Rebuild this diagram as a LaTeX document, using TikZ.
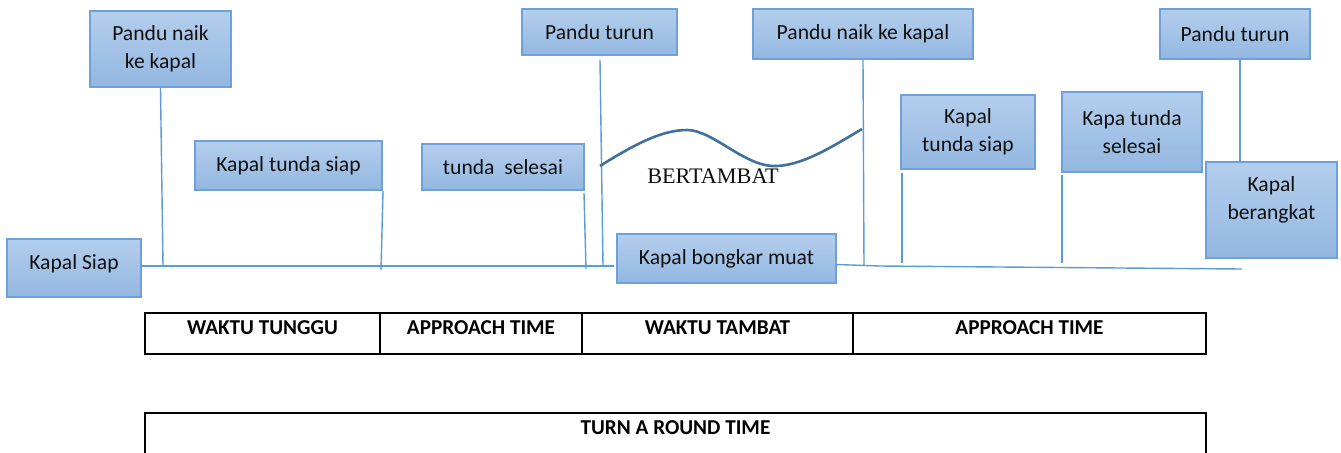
\documentclass[tikz,border=0pt]{standalone}
\usepackage{fontspec}
\setmainfont{Carlito}
\newfontfamily\timesf{Liberation Serif}
\definecolor{boxtop}{HTML}{B4CEEC}
\definecolor{boxbot}{HTML}{93B7E1}
\definecolor{boxedge}{HTML}{6FA0DA}
\definecolor{linec}{HTML}{5B9BD5}
\definecolor{wavec}{HTML}{41709C}
\definecolor{txt}{HTML}{101010}
\tikzset{
  bluebox/.style={draw=boxedge, line width=1pt, top color=boxtop, bottom color=boxbot,
    inner sep=0pt, align=center, text=txt, font=\fontsize{10.8}{14}\selectfont},
  boxtext/.style={inner sep=0pt, align=center, text=txt, font=\fontsize{10.8}{14}\selectfont},
  conn/.style={draw=linec, line width=0.7pt},
  wave/.style={draw=wavec, line width=1.3pt},
  cell/.style={draw=black, line width=1pt, inner sep=0pt, minimum height=20.5pt},
  celltext/.style={inner sep=0pt, text=black, font=\fontsize{10.6}{12}\selectfont\bfseries},
}
\begin{document}
\begin{tikzpicture}[x=0.5pt,y=-0.5pt]
\useasboundingbox (0,0) rectangle (1341,452);

% boxes
\node[bluebox, minimum width=70.5pt, minimum height=38pt] (pnk1) at (160.5,49) {Pandu naik\\ke kapal};
\node[bluebox, minimum width=93.5pt, minimum height=24.5pt] (kts1) at (288.5,165.5) {Kapal tunda siap};
\node[bluebox, minimum width=67pt, minimum height=29pt] (ks) at (74,268) {};
\node[boxtext] (kst) at (74,264) {Kapal Siap};
\node[bluebox, minimum width=81pt, minimum height=23pt] (ts) at (503,167) {tunda\ \ selesai};
\node[bluebox, minimum width=77.5pt, minimum height=23pt] (pt1) at (599.5,32) {Pandu turun};
\node[bluebox, minimum width=110pt, minimum height=25pt] (pnk2) at (863,34) {Pandu naik ke kapal};
\node[bluebox, minimum width=109.5pt, minimum height=24.5pt] (kbm) at (726.5,258.5) {Kapal bongkar muat};
\node[bluebox, minimum width=67pt, minimum height=37pt] (kts2) at (968,132) {Kapal\\tunda siap};
\node[bluebox, minimum width=70pt, minimum height=40pt] (kts3) at (1132,132) {Kapa tunda\\selesai};
\node[bluebox, minimum width=75pt, minimum height=25pt] (pt2) at (1235,34) {Pandu turun};
\node[bluebox, minimum width=65.5pt, minimum height=48pt] (kb) at (1271.5,210) {};
\node[boxtext] (kbt) at (1271.5,200) {Kapal\\berangkat};

% main time line
\coordinate (m0) at (141,266);
\coordinate (m1) at (614,266);
\coordinate (m2) at (836,264.5);
\coordinate (m3) at (880,266);
\coordinate (m4) at (1242,269);
\draw[conn] (m0) -- (m1);
\draw[conn] (m2) -- (m3) -- (m4);

% vertical markers
\coordinate (v1) at (163,266);
\draw[conn] (pnk1.south) -- (v1);
\coordinate (v2) at (381,270);
\draw[conn] (kts1.south east) -- (v2);
\coordinate (v3a) at (584,193);
\coordinate (v3b) at (586,269);
\draw[conn] (v3a) -- (v3b);
\coordinate (v4a) at (600,60);
\coordinate (v4b) at (603,266);
\draw[conn] (v4a) -- (v4b);
\coordinate (v5) at (864,265);
\draw[conn] (pnk2.south) -- (v5);
\coordinate (v6a) at (902,173);
\coordinate (v6b) at (902,263);
\draw[conn] (v6a) -- (v6b);
\coordinate (v7a) at (1062,175);
\coordinate (v7b) at (1062,263);
\draw[conn] (v7a) -- (v7b);
\coordinate (v8a) at (1240,59);
\coordinate (v8b) at (1240,162);
\draw[conn] (v8a) -- (v8b);

% wave
\coordinate (w0) at (600,166);
\coordinate (w1) at (687,130);
\coordinate (w2) at (772,166);
\coordinate (w3) at (862,129);
\draw[wave] (w0) .. controls (635,144) and (662,130) .. (w1)
  .. controls (712,130) and (742,164) .. (w2)
  .. controls (800,167) and (830,148) .. (w3);
\node[inner sep=0pt, text=txt, font=\timesf\fontsize{11.1}{12}\selectfont] (bt) at (713,176) {BERTAMBAT};

% table
\node[cell, minimum width=117.5pt] (c1) at (262.5,333.5) {};
\node[cell, minimum width=101pt] (c2) at (481,333.5) {};
\node[cell, minimum width=135.5pt] (c3) at (717.5,333.5) {};
\node[cell, minimum width=176.5pt] (c4) at (1029.5,333.5) {};
\node[celltext] (c1t) at (262.5,328) {WAKTU TUNGGU};
\node[celltext] (c2t) at (481,328) {APPROACH TIME};
\node[celltext] (c3t) at (717.5,328) {WAKTU TAMBAT};
\node[celltext] (c4t) at (1029.5,328) {APPROACH TIME};

\node[cell, minimum width=530.5pt, minimum height=27pt] (tr) at (675.5,440) {};
\node[celltext] (trt) at (675.5,428) {TURN A ROUND TIME};
\end{tikzpicture}
\end{document}
